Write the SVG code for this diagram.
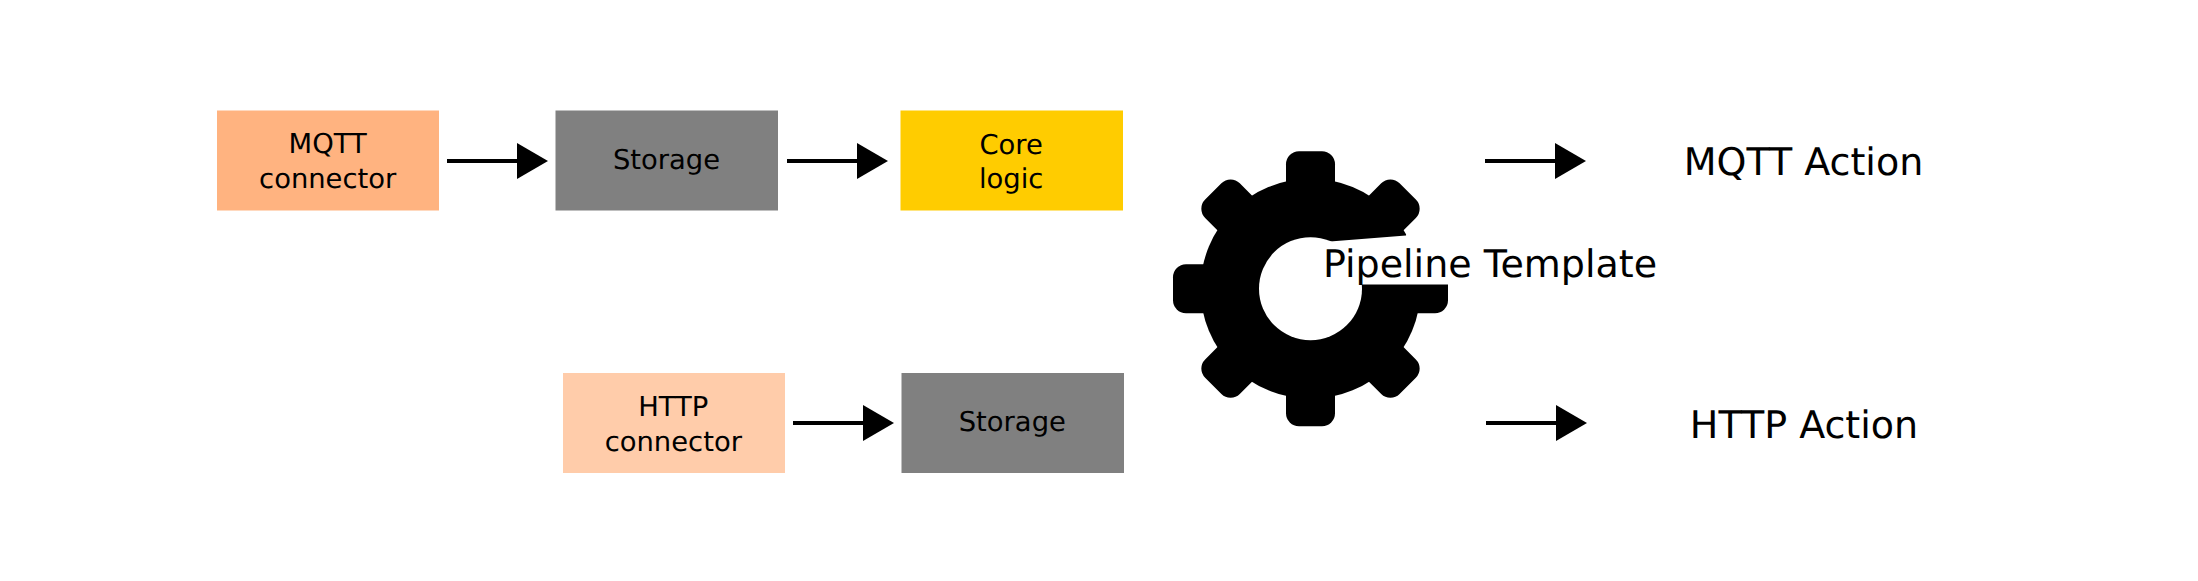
<svg xmlns="http://www.w3.org/2000/svg" width="2198" height="581" viewBox="0 0 2198 581">
<defs>
<marker id="head" markerUnits="userSpaceOnUse" markerWidth="32" markerHeight="37" refX="2" refY="18" orient="auto"><path d="M0 0L31 18L0 36Z" fill="#000"/></marker>
<rect id="tooth" x="-24.500" y="-137.500" width="49" height="60" rx="13" fill="#000"/>
</defs>
<style>
.box{stroke:none}
text{font-family:"DejaVu Sans",sans-serif;fill:#000;text-anchor:middle;text-rendering:geometricPrecision}
.s{font-size:27.400px}
.l{font-size:38px}
.c{fill:none;stroke:#000;stroke-width:4;marker-end:url(#head)}
</style>
<rect width="2198" height="581" fill="#fff"/>
<g id="mqtt-connector"><rect class="box" x="217" y="110.500" width="222" height="100" fill="#ffb380"/><text class="s" x="327.700" y="153">MQTT</text><text class="s" x="327.700" y="188">connector</text></g>
<g id="storage-1"><rect class="box" x="555.500" y="110.500" width="222.500" height="100" fill="#808080"/><text class="s" x="666.500" y="169">Storage</text></g>
<g id="core-logic"><rect class="box" x="900.500" y="110.500" width="222.500" height="100" fill="#ffcc00"/><text class="s" x="1011.200" y="153.500">Core</text><text class="s" x="1011.200" y="188">logic</text></g>
<g id="http-connector"><rect class="box" x="563" y="373" width="222" height="100" fill="#ffccaa"/><text class="s" x="673.300" y="416">HTTP</text><text class="s" x="673.300" y="450.500">connector</text></g>
<g id="storage-2"><rect class="box" x="901.500" y="373" width="222.500" height="100" fill="#808080"/><text class="s" x="1012.300" y="431.300">Storage</text></g>
<g id="pipeline-template">
<g transform="translate(1310.500 288.700)"><circle r="110" fill="#000"/>
<use href="#tooth"/><use href="#tooth" transform="rotate(45)"/><use href="#tooth" transform="rotate(90)"/><use href="#tooth" transform="rotate(135)"/><use href="#tooth" transform="rotate(180)"/><use href="#tooth" transform="rotate(225)"/><use href="#tooth" transform="rotate(270)"/><use href="#tooth" transform="rotate(315)"/>
<circle r="51.500" fill="#fff"/></g>
<polygon points="1330,241.500 1406,235.500 1407,232 1460,232 1460,284.500 1362,284.500 1340,300" fill="#fff"/>
<text class="l" x="1490" y="276.500">Pipeline Template</text></g>
<g id="mqtt-action"><text class="l" x="1803.500" y="175.300">MQTT Action</text></g>
<g id="http-action"><text class="l" x="1804" y="437.700">HTTP Action</text></g>
<g id="connectors">
<line class="c" x1="447" y1="161" x2="519" y2="161"/>
<line class="c" x1="787" y1="161" x2="859" y2="161"/>
<line class="c" x1="793" y1="423" x2="865" y2="423"/>
<line class="c" x1="1485" y1="161" x2="1557" y2="161"/>
<line class="c" x1="1486" y1="423" x2="1558" y2="423"/>
</g>
</svg>
